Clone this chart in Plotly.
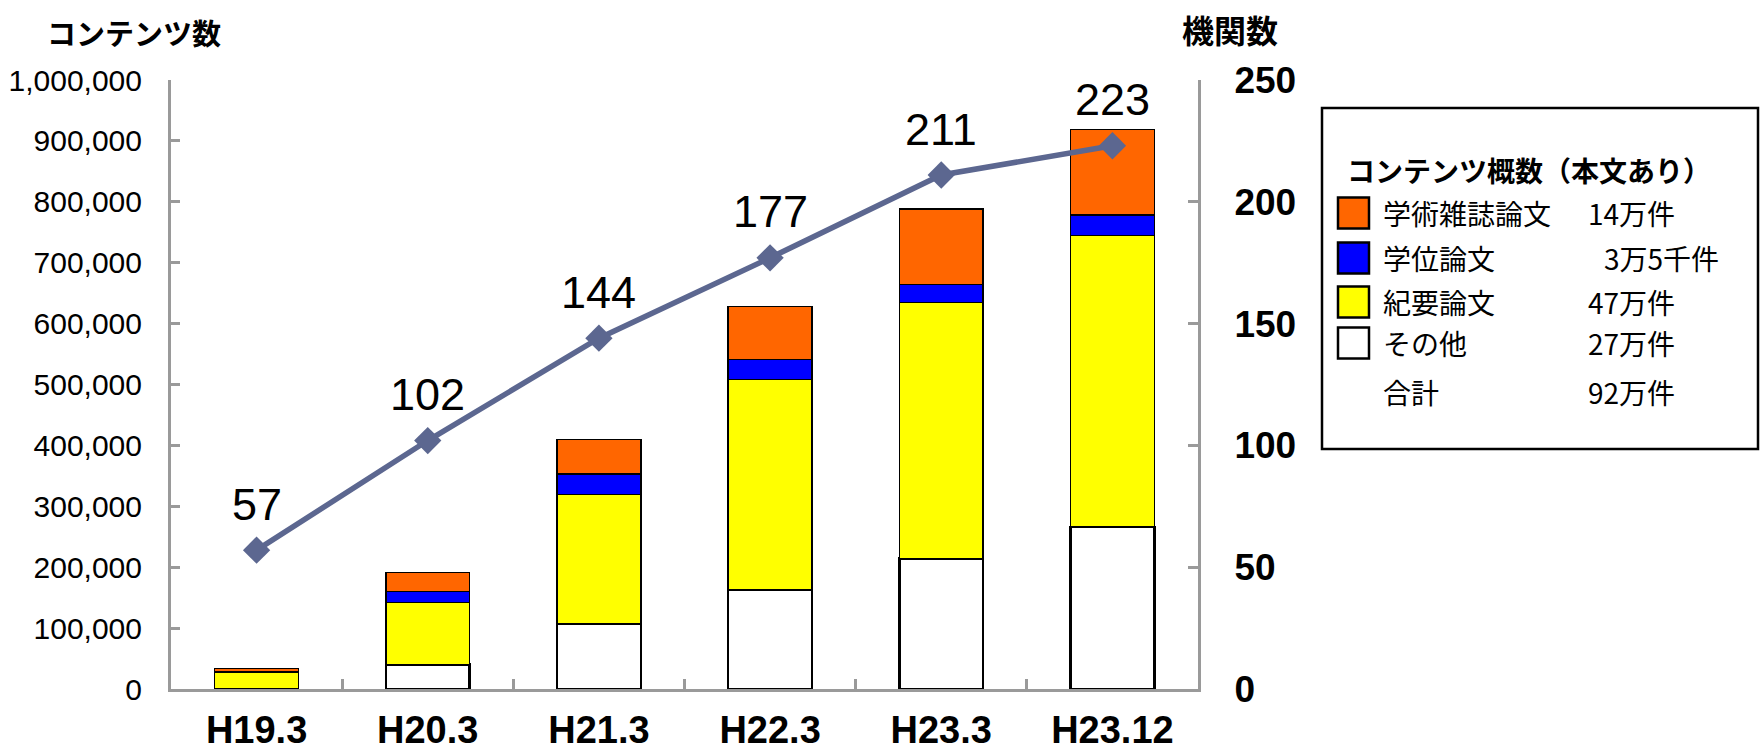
import plotly.graph_objects as go

# ---- data ----
categories = ["H19.3", "H20.3", "H21.3", "H22.3", "H23.3", "H23.12"]
other = [0, 40000, 107000, 163000, 214000, 266000]          # その他
kiyou = [28000, 102000, 212000, 345000, 421000, 479000]     # 紀要論文
gakui = [0, 18000, 34000, 33000, 29000, 33000]              # 学位論文
gakujutsu = [5500, 31000, 57000, 87000, 124000, 141000]     # 学術雑誌論文
institutions = [57, 102, 144, 177, 211, 223]                # 機関数

legend_title = "コンテンツ概数（本文あり）"
legend_names = ["学術雑誌論文", "学位論文", "紀要論文", "その他", "合計"]
legend_values = ["14万件", "3万5千件", "47万件", "27万件", "92万件"]
legend_colors = ["#FF6600", "#0000FF", "#FFFF00", "#FFFFFF", None]

# ---- layout geometry (pixels) ----
W, H = 1760, 752
L, R, T, B = 171, 1198, 80, 689
PW, PH = R - L, B - T


def px(x):
    return (x - L) / PW


def py(y):
    return (B - y) / PH


LAT = "Liberation Sans, Arial, sans-serif"
JP = "Noto Sans CJK JP, sans-serif"
AX = "#9a9a9a"

fig = go.Figure()

bar_specs = [
    ("その他", other, "#FFFFFF", 2.5),
    ("紀要論文", kiyou, "#FFFF00", 1.5),
    ("学位論文", gakui, "#0000FF", 1.5),
    ("学術雑誌論文", gakujutsu, "#FF6600", 1.5),
]
for name, vals, col, lw in bar_specs:
    fig.add_trace(go.Bar(
        x=categories, y=vals, name=name, width=0.49,
        marker=dict(color=col, line=dict(color="#000000", width=lw)),
        yaxis="y", showlegend=False,
    ))

fig.add_trace(go.Scatter(
    x=categories, y=institutions, yaxis="y2", mode="lines+markers",
    line=dict(color="#5C6790", width=5.5),
    marker=dict(symbol="diamond", size=21, color="#5C6790"),
    showlegend=False, name="機関数",
))

annotations = []
for c, v in zip(categories, institutions):
    annotations.append(dict(
        x=c, y=v, xref="x", yref="y2", text=str(v), showarrow=False,
        yshift=46, font=dict(family=LAT, size=45, color="#000000"),
    ))

# axis titles
annotations.append(dict(x=px(45), y=py(32), xref="paper", yref="paper", text="コンテンツ数",
                        showarrow=False, xanchor="left", yanchor="middle",
                        font=dict(family=JP, size=29, color="#000000", weight="bold")))
annotations.append(dict(x=px(1180), y=py(29), xref="paper", yref="paper", text="機関数",
                        showarrow=False, xanchor="left", yanchor="middle",
                        font=dict(family=JP, size=32, color="#000000", weight="bold")))

# custom legend box
shapes = [dict(type="rect", xref="paper", yref="paper",
               x0=px(1322), x1=px(1758), y0=py(449), y1=py(108),
               line=dict(color="#000000", width=2.5), fillcolor="#FFFFFF", layer="below")]
annotations.append(dict(x=px(1345), y=py(170), xref="paper", yref="paper", text=legend_title,
                        showarrow=False, xanchor="left", yanchor="middle",
                        font=dict(family=JP, size=28, color="#000000", weight="bold")))
row_y = [213, 258, 302, 343, 392]
for name, val, col, ry in zip(legend_names, legend_values, legend_colors, row_y):
    if col is not None:
        shapes.append(dict(type="rect", xref="paper", yref="paper",
                           x0=px(1338), x1=px(1369), y0=py(ry + 15.5), y1=py(ry - 15.5),
                           line=dict(color="#000000", width=2.5), fillcolor=col))
    annotations.append(dict(x=px(1381), y=py(ry), xref="paper", yref="paper", text=name,
                            showarrow=False, xanchor="left", yanchor="middle",
                            font=dict(family=JP, size=28, color="#000000")))
    vx = 1602 if val.startswith("3万") else 1586
    annotations.append(dict(x=px(vx), y=py(ry), xref="paper", yref="paper", text=val,
                            showarrow=False, xanchor="left", yanchor="middle",
                            font=dict(family=JP, size=28, color="#000000")))

fig.update_layout(
    width=W, height=H,
    margin=dict(l=L, r=W - R, t=T, b=H - B, pad=0, autoexpand=False),
    paper_bgcolor="#FFFFFF", plot_bgcolor="#FFFFFF",
    barmode="stack",
    xaxis=dict(
        type="category", showline=True, linecolor=AX, linewidth=3,
        ticks="inside", tickson="boundaries", ticklen=10, tickwidth=3, tickcolor=AX,
        tickfont=dict(family=LAT, size=38, color="#000000", weight="bold"),
        ticklabelstandoff=5, showgrid=False, zeroline=False, automargin=False,
    ),
    yaxis=dict(
        range=[0, 1000000], tickvals=[i * 100000 for i in range(11)], tickformat=",d",
        showline=True, linecolor=AX, linewidth=3,
        ticks="inside", ticklen=9, tickwidth=3, tickcolor=AX,
        tickfont=dict(family=LAT, size=30, color="#000000"),
        ticklabelstandoff=20, showgrid=False, zeroline=False, automargin=False,
    ),
    yaxis2=dict(
        range=[0, 250], tickvals=[0, 50, 100, 150, 200, 250], overlaying="y", side="right",
        showline=True, linecolor=AX, linewidth=3,
        ticks="inside", ticklen=10, tickwidth=3, tickcolor=AX,
        tickfont=dict(family=LAT, size=37, color="#000000", weight="bold"),
        ticklabelstandoff=26, showgrid=False, zeroline=False, automargin=False,
    ),
    annotations=annotations,
    shapes=shapes,
)

fig.write_html("out.html")
